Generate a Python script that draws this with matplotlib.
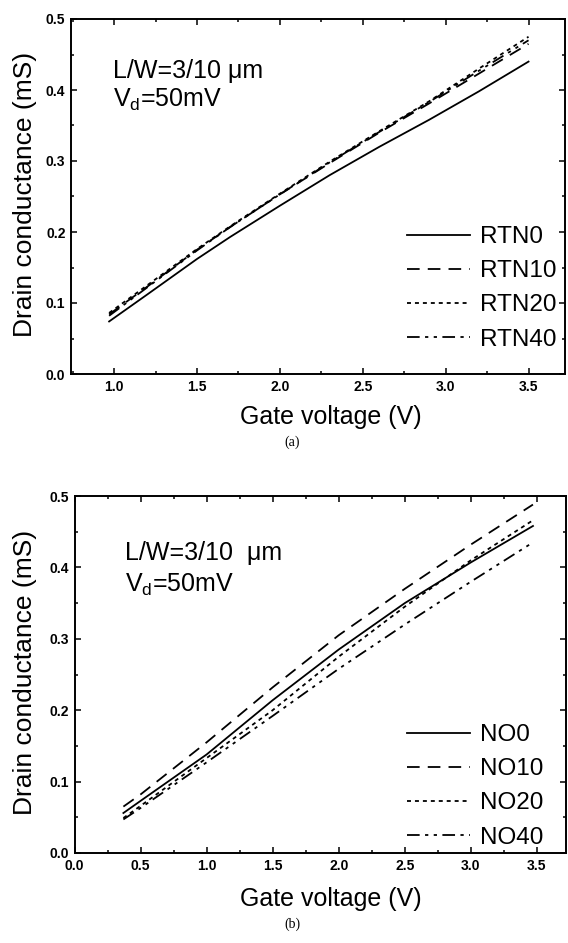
import matplotlib
matplotlib.use("Agg")
import matplotlib.pyplot as plt
from matplotlib.ticker import MultipleLocator, FormatStrFormatter

plt.rcParams['font.family'] = ['Liberation Sans', 'DejaVu Sans']
plt.rcParams['mathtext.fontset'] = 'custom'
plt.rcParams['mathtext.rm'] = 'Liberation Sans'
plt.rcParams['mathtext.it'] = 'Liberation Sans'

# panel (a) - RTN samples
vg_a = [0.97, 1.2, 1.5, 1.7, 2.0, 2.3, 2.6, 2.9, 3.2, 3.5]
rtn0 = [0.074, 0.112, 0.162, 0.193, 0.237, 0.280, 0.320, 0.358, 0.398, 0.440]
rtn10 = [0.084, 0.123, 0.175, 0.207, 0.253, 0.297, 0.340, 0.381, 0.423, 0.465]
rtn20 = [0.086, 0.125, 0.176, 0.208, 0.254, 0.299, 0.342, 0.384, 0.430, 0.475]
rtn40 = [0.082, 0.122, 0.174, 0.207, 0.253, 0.298, 0.341, 0.383, 0.427, 0.470]

# panel (b) - NO samples
vg_b = [0.37, 0.5, 1.0, 1.5, 2.0, 2.5, 3.0, 3.47]
no0 = [0.056, 0.073, 0.138, 0.214, 0.285, 0.350, 0.407, 0.458]
no10 = [0.065, 0.082, 0.155, 0.232, 0.305, 0.370, 0.432, 0.488]
no20 = [0.049, 0.066, 0.133, 0.200, 0.275, 0.345, 0.410, 0.466]
no40 = [0.047, 0.063, 0.127, 0.192, 0.258, 0.320, 0.380, 0.435]

labels_a = ["RTN0", "RTN10", "RTN20", "RTN40"]
labels_b = ["NO0", "NO10", "NO20", "NO40"]
styles = ['-', (0, (7, 4.5)), (0, (2.2, 2.2)), (0, (7, 3, 1.8, 3, 1.8, 3))]

W, H = 568, 943
fig = plt.figure(figsize=(W / 100, H / 100), dpi=100)


def px(x0, y0, x1, y1):
    return [x0 / W, 1 - y1 / H, (x1 - x0) / W, (y1 - y0) / H]


def setup(ax, xlim):
    ax.set_xlim(*xlim)
    ax.set_ylim(0, 0.5)
    ax.xaxis.set_major_locator(MultipleLocator(0.5))
    ax.xaxis.set_minor_locator(MultipleLocator(0.25))
    ax.yaxis.set_major_locator(MultipleLocator(0.1))
    ax.yaxis.set_minor_locator(MultipleLocator(0.05))
    ax.xaxis.set_major_formatter(FormatStrFormatter('%.1f'))
    ax.yaxis.set_major_formatter(FormatStrFormatter('%.1f'))
    ax.tick_params(which='both', direction='in', top=True, right=True,
                   labelsize=10, pad=4, width=1.1)
    ax.tick_params(which='major', length=4.5)
    ax.tick_params(which='minor', length=2.5)
    for lab in ax.get_xticklabels() + ax.get_yticklabels():
        lab.set_fontweight('bold')
    for s in ax.spines.values():
        s.set_linewidth(1.4)


def panel(ax, x, series, labels, legend_top):
    for ys, lab, ls in zip(series, labels, styles):
        ax.plot(x, ys, color='black', lw=1.3, linestyle=ls, label=lab)
    ax.legend(loc='upper left', bbox_to_anchor=(407 / W, 1 - legend_top / H),
              bbox_transform=fig.transFigure, frameon=False, fontsize=17.5,
              handlelength=2.59, handletextpad=0.41, labelspacing=0.5,
              borderpad=0, borderaxespad=0)


ax1 = fig.add_axes(px(71, 19, 565, 374))
setup(ax1, (0.74, 3.72))
panel(ax1, vg_a, [rtn0, rtn10, rtn20, rtn40], labels_a, 226)
fig.text(113 / W, 1 - 71 / H, "L/W=3/10 \u03bcm", fontsize=18, va='center')
fig.text(113 / W, 1 - 100 / H, r"V$_\mathrm{d}$=50mV", fontsize=18, va='center')
fig.text(25 / W, 1 - 194 / H, "Drain conductance (mS)", fontsize=19,
         rotation=90, ha='center', va='center')
fig.text(331 / W, 1 - 417 / H, "Gate voltage (V)", fontsize=18, ha='center', va='center')
fig.text(292 / W, 1 - 442 / H, "(a)", fontsize=10, ha='center', va='center',
         family='Liberation Serif')

ax2 = fig.add_axes(px(74.5, 496, 566, 853))
setup(ax2, (0.0, 3.72))
panel(ax2, vg_b, [no0, no10, no20, no40], labels_b, 724)
fig.text(125 / W, 1 - 553 / H, "L/W=3/10  \u03bcm", fontsize=18, va='center')
fig.text(125 / W, 1 - 585 / H, r"V$_\mathrm{d}$=50mV", fontsize=18, va='center')
fig.text(25 / W, 1 - 672 / H, "Drain conductance (mS)", fontsize=19,
         rotation=90, ha='center', va='center')
fig.text(331 / W, 1 - 899 / H, "Gate voltage (V)", fontsize=18, ha='center', va='center')
fig.text(292 / W, 1 - 924 / H, "(b)", fontsize=10, ha='center', va='center',
         family='Liberation Serif')

fig.savefig("out.png", dpi=100)
